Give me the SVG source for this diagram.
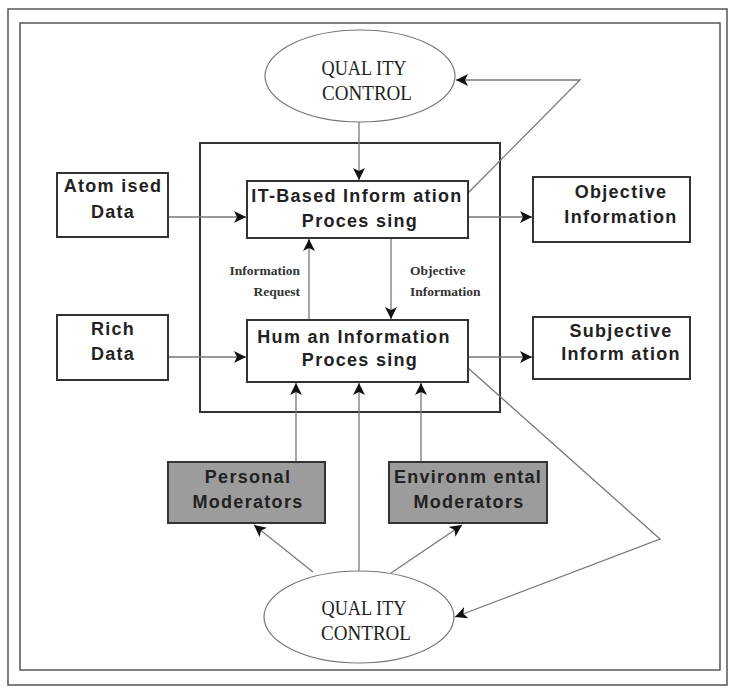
<svg xmlns="http://www.w3.org/2000/svg" width="734" height="690" viewBox="0 0 734 690">
<style>
.frame{fill:none;stroke:#555;stroke-width:1.5}
.box{fill:#fff;stroke:#333;stroke-width:2}
.mod{fill:#9c9c9c;stroke:#333;stroke-width:2}
.ell{fill:#fff;stroke:#777;stroke-width:1.2}
.con{fill:none;stroke:#777;stroke-width:1.3}
.t{font-family:"Liberation Sans",Arial,sans-serif;font-weight:bold;font-size:18px;fill:#222;text-anchor:middle;letter-spacing:1.3px}
.q{font-family:"Liberation Serif","Times New Roman",serif;font-size:21px;fill:#222;text-anchor:middle}
.s{font-family:"Liberation Serif","Times New Roman",serif;font-weight:bold;font-size:13.5px;fill:#333}
</style>
<defs>
<marker id="ah" viewBox="0 0 10 10" refX="10" refY="5" markerWidth="12" markerHeight="12" markerUnits="userSpaceOnUse" orient="auto">
<path d="M0,0 L10,5 L0,10 L2.5,5 Z" fill="#111"/>
</marker>
</defs>
<rect class="frame" x="8" y="9" width="719" height="676"/>
<rect class="frame" x="20" y="23" width="700" height="647"/>
<rect id="container" x="200" y="143" width="300" height="269" fill="none" stroke="#333" stroke-width="2"/>
<g id="connectors">
<line class="con" x1="359" y1="122" x2="359" y2="180" marker-end="url(#ah)"/>
<path class="con" d="M468,193 L580,80 L456,80" marker-end="url(#ah)"/>
<line class="con" x1="168" y1="217" x2="246" y2="217" marker-end="url(#ah)"/>
<line class="con" x1="468" y1="217" x2="532" y2="217" marker-end="url(#ah)"/>
<line class="con" x1="309" y1="320" x2="309" y2="239" marker-end="url(#ah)"/>
<line class="con" x1="391" y1="238" x2="391" y2="319" marker-end="url(#ah)"/>
<line class="con" x1="168" y1="357" x2="246" y2="357" marker-end="url(#ah)"/>
<line class="con" x1="468" y1="357" x2="532" y2="357" marker-end="url(#ah)"/>
<line class="con" x1="296" y1="462" x2="296" y2="383" marker-end="url(#ah)"/>
<line class="con" x1="359" y1="572" x2="359" y2="383" marker-end="url(#ah)"/>
<line class="con" x1="421" y1="462" x2="421" y2="383" marker-end="url(#ah)"/>
<line class="con" x1="313" y1="572" x2="254" y2="525" marker-end="url(#ah)"/>
<line class="con" x1="391" y1="573" x2="462" y2="525" marker-end="url(#ah)"/>
<path class="con" d="M468,368 L660,539 L455,617" marker-end="url(#ah)"/>
</g>
<g id="qc-top">
<ellipse class="ell" cx="360" cy="76" rx="95" ry="46"/>
<text class="q" x="364" y="75" textLength="85" lengthAdjust="spacingAndGlyphs">QUAL ITY</text>
<text class="q" x="367" y="100" textLength="90" lengthAdjust="spacingAndGlyphs">CONTROL</text>
</g>
<g id="atomised">
<rect class="box" x="57" y="173" width="111" height="64"/>
<text class="t" x="113" y="192">Atom ised</text>
<text class="t" x="113" y="218">Data</text>
</g>
<g id="it-based">
<rect class="box" x="247" y="181" width="221" height="57" stroke-width="1.5"/>
<text class="t" x="357" y="202">IT-Based Inform ation</text>
<text class="t" x="360" y="227">Proces sing</text>
</g>
<g id="objective">
<rect class="box" x="533" y="177" width="157" height="65"/>
<text class="t" x="621" y="198">Objective</text>
<text class="t" x="621" y="223">Information</text>
</g>
<g id="label-request">
<text class="s" x="300" y="275" text-anchor="end">Information</text>
<text class="s" x="300" y="296" text-anchor="end">Request</text>
</g>
<g id="label-objective">
<text class="s" x="410" y="275">Objective</text>
<text class="s" x="410" y="296">Information</text>
</g>
<g id="rich">
<rect class="box" x="57" y="315" width="111" height="65"/>
<text class="t" x="113" y="335">Rich</text>
<text class="t" x="113" y="360">Data</text>
</g>
<g id="human">
<rect class="box" x="247" y="320" width="221" height="62" stroke-width="1.5"/>
<text class="t" x="354" y="343">Hum an Information</text>
<text class="t" x="360" y="366">Proces sing</text>
</g>
<g id="subjective">
<rect class="box" x="533" y="317" width="157" height="62"/>
<text class="t" x="621" y="337">Subjective</text>
<text class="t" x="621" y="360">Inform ation</text>
</g>
<g id="personal">
<rect class="mod" x="168" y="462" width="157" height="61"/>
<text class="t" x="248" y="483">Personal</text>
<text class="t" x="248" y="508">Moderators</text>
</g>
<g id="environmental">
<rect class="mod" x="389" y="462" width="158" height="61"/>
<text class="t" x="468" y="483">Environm ental</text>
<text class="t" x="469" y="508">Moderators</text>
</g>
<g id="qc-bottom">
<ellipse class="ell" cx="359" cy="617" rx="95" ry="46"/>
<text class="q" x="364" y="615" textLength="85" lengthAdjust="spacingAndGlyphs">QUAL ITY</text>
<text class="q" x="366" y="640" textLength="90" lengthAdjust="spacingAndGlyphs">CONTROL</text>
</g>
</svg>
